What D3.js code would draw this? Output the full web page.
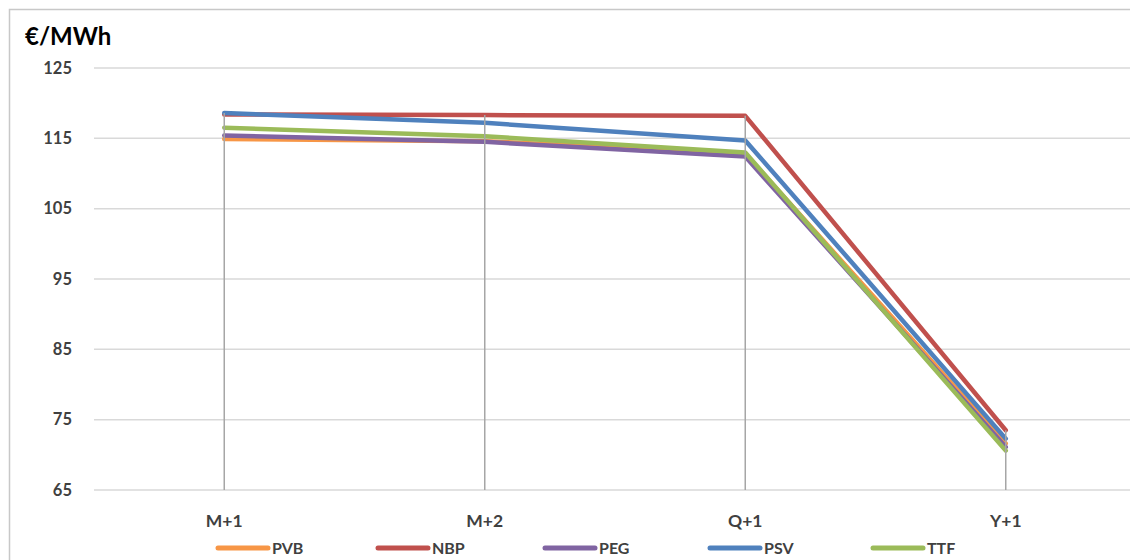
<!DOCTYPE html>
<html>
<head>
<meta charset="utf-8">
<script src="https://cdn.jsdelivr.net/npm/d3@7"></script>
<style>
  body { margin: 0; background: #fff; }
  svg text { font-family: Lato, "Open Sans", sans-serif; font-weight: bold; fill: #404040; }
</style>
</head>
<body>
<div id="chart"></div>
<script>
const categories = ["M+1", "M+2", "Q+1", "Y+1"];
const seriesNames = ["PVB", "NBP", "PEG", "PSV", "TTF"];
const seriesColors = ["#F79646", "#C0504D", "#8064A2", "#4F81BD", "#9BBB59"];
const pvb = [114.9, 114.6, 112.8, 71.6];
const nbp = [118.4, 118.3, 118.2, 73.5];
const peg = [115.4, 114.5, 112.4, 71.1];
const psv = [118.6, 117.2, 114.7, 72.3];
const ttf = [116.5, 115.3, 113.0, 70.6];
const yTicks = [65, 75, 85, 95, 105, 115, 125];

const seriesValues = [pvb, nbp, peg, psv, ttf];

const W = 1130, H = 560;
const margin = { top: 68, right: -6, bottom: 70, left: 94 };
const width = W - margin.left - margin.right;
const height = H - margin.top - margin.bottom;

const svg = d3.select("#chart").append("svg")
    .attr("width", W)
    .attr("height", H);

// chart border (runs past right/bottom edges)
svg.append("rect")
    .attr("x", 9.5).attr("y", 9.5)
    .attr("width", W + 20).attr("height", H + 20)
    .attr("fill", "none")
    .attr("stroke", "#c8c8c8")
    .attr("stroke-width", 1.5);

const g = svg.append("g")
    .attr("transform", `translate(${margin.left}, ${margin.top})`);

const x = d3.scalePoint()
    .domain(categories)
    .range([0, width])
    .padding(0.5);

const y = d3.scaleLinear()
    .domain([65, 125])
    .range([height, 0]);

// gridlines
g.append("g")
    .selectAll("line")
    .data(yTicks)
    .join("line")
    .attr("x1", 0).attr("x2", width)
    .attr("y1", d => y(d)).attr("y2", d => y(d))
    .attr("stroke", "#d9d9d9")
    .attr("stroke-width", 1.5);

// y labels
g.append("g")
    .selectAll("text")
    .data(yTicks)
    .join("text")
    .attr("x", -22)
    .attr("y", d => y(d))
    .attr("dy", "0.35em")
    .attr("text-anchor", "end")
    .style("font-size", "16.5px")
    .text(d => d);

svg.append("text")
    .attr("x", 25).attr("y", 45)
    .style("font-size", "24px")
    .style("fill", "#000")
    .text("€/MWh");

// x labels
g.append("g")
    .selectAll("text")
    .data(categories)
    .join("text")
    .attr("x", d => x(d))
    .attr("y", height + 37)
    .attr("text-anchor", "middle")
    .style("font-size", "17.5px")
    .text(d => d);

// series lines
const line = d3.line()
    .x((d, i) => x(categories[i]))
    .y(d => y(d));

g.append("g")
    .selectAll("path")
    .data(seriesValues)
    .join("path")
    .attr("fill", "none")
    .attr("stroke", (d, i) => seriesColors[i])
    .attr("stroke-width", 4.5)
    .attr("stroke-linejoin", "round")
    .attr("stroke-linecap", "round")
    .attr("d", line);

// drop lines
g.append("g")
    .selectAll("line")
    .data(categories)
    .join("line")
    .attr("x1", d => x(d)).attr("x2", d => x(d))
    .attr("y1", (d, i) => y(d3.max(seriesValues, s => s[i])))
    .attr("y2", height)
    .attr("stroke", "#a6a6a6")
    .attr("stroke-width", 1.5);

// legend
const legendX = [218, 378, 545, 710, 873];
const legend = svg.append("g")
    .selectAll("g")
    .data(seriesNames)
    .join("g")
    .attr("transform", (d, i) => `translate(${legendX[i]}, 548)`);

legend.append("line")
    .attr("x1", 0).attr("x2", 50)
    .attr("y1", 0).attr("y2", 0)
    .attr("stroke", (d, i) => seriesColors[i])
    .attr("stroke-width", 5)
    .attr("stroke-linecap", "round");

legend.append("text")
    .attr("x", 54)
    .attr("y", 0)
    .attr("dy", "0.38em")
    .style("font-size", "16px")
    .text(d => d);
</script>
</body>
</html>
